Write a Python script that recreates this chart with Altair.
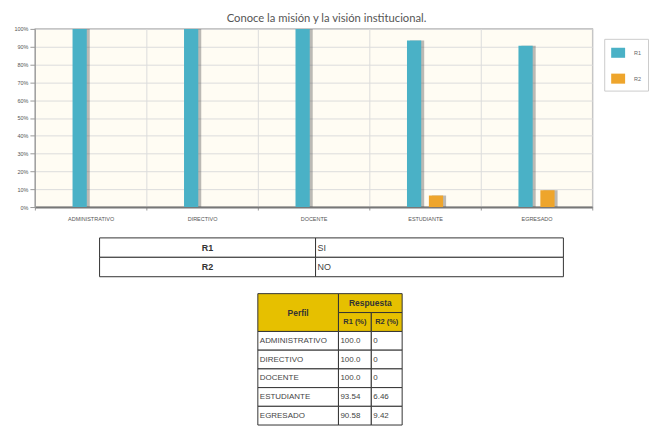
import altair as alt
import pandas as pd

# ---------------- data ----------------
title_text = "Conoce la misión y la visión institucional."
categories = ["ADMINISTRATIVO", "DIRECTIVO", "DOCENTE", "ESTUDIANTE", "EGRESADO"]
r1_values = [100.0, 100.0, 100.0, 93.54, 90.58]
r2_values = [0, 0, 0, 6.46, 9.42]
series = ["R1", "R2"]
series_meaning = ["SI", "NO"]
y_ticks = [0, 10, 20, 30, 40, 50, 60, 70, 80, 90, 100]
header_perfil = "Perfil"
header_group = "Respuesta"
header_cols = ["R1 (%)", "R2 (%)"]

# ---------------- styles / layout ----------------
series_colors = ["#4ab1c6", "#eea52c"]
PLOT_W, PLOT_H = 560, 179
TAB_W, TAB_H = 560, 188
FONT_TAB = "Liberation Sans"
OFFSET_RANGE = [37.85, 74.15]
SHADOW_RANGE = [40.85, 77.15]

bars_df = pd.DataFrame(
    [{"perfil": c, "serie": s, "valor": v}
     for c, a, b in zip(categories, r1_values, r2_values)
     for s, v in zip(series, [a, b])]
)

x_enc = alt.X(
    "perfil:N", sort=categories,
    scale=alt.Scale(paddingInner=0, paddingOuter=0),
    axis=alt.Axis(title=None, tickBand="extent", labelAngle=0, labelFontSize=5.5,
                  labelColor="#555", labelFont="Liberation Sans", tickColor="#999",
                  tickSize=3, labelPadding=7, domainColor="#777", domainWidth=2,
                  grid=True, gridColor="#dcdcdc"),
)
y_enc = alt.Y(
    "valor:Q",
    scale=alt.Scale(domain=[0, 100], nice=False),
    axis=alt.Axis(title=None, values=y_ticks, labelExpr="datum.value + '%'",
                  labelFontSize=5.5, labelColor="#555", labelFont="Liberation Sans",
                  tickSize=5, tickColor="#999", labelPadding=2, domainColor="#999",
                  grid=True, gridColor="#dcdcdc"),
)

shadow = alt.Chart(bars_df).mark_bar(color="#555", opacity=0.4).encode(
    x=x_enc, y=y_enc,
    xOffset=alt.XOffset("serie:N", sort=series,
                        scale=alt.Scale(paddingInner=0.35, paddingOuter=0, range=SHADOW_RANGE)),
)
bars = alt.Chart(bars_df).mark_bar().encode(
    x=x_enc, y=y_enc,
    xOffset=alt.XOffset("serie:N", sort=series,
                        scale=alt.Scale(paddingInner=0.35, paddingOuter=0, range=OFFSET_RANGE)),
    color=alt.Color(
        "serie:N",
        scale=alt.Scale(domain=series, range=series_colors),
        legend=alt.Legend(title=None, orient="none", legendX=572, legendY=10,
                          symbolType="M-1,-0.72L1,-0.72L1,0.72L-1,0.72Z",
                          symbolSize=196, labelFontSize=5.5, labelColor="#666",
                          labelFont="Liberation Sans", labelOffset=8, padding=6,
                          rowPadding=12, strokeColor="#cccccc", fillColor="white"),
    ),
)

bar_chart = alt.layer(shadow, bars).resolve_scale(xOffset="independent").properties(
    width=PLOT_W, height=PLOT_H,
    title=alt.TitleParams(title_text, fontSize=11.3, font="Lato", color="#555",
                          fontWeight="normal", anchor="middle", frame="group",
                          dx=13, offset=3),
    view=alt.ViewBackground(fill="#fffcf3", stroke="#888", strokeWidth=1.2),
)

# ---------------- tables ----------------
T1_X = [65, 282, 531]
T1_ROW = 19.5
T2_X = [224, 305, 338, 369]
T2_Y = [56, 75, 94]
T2_ROW = 18.8
GOLD = "#e6c000"

cells = []
texts = []
for i, (k, m) in enumerate(zip(series, series_meaning)):
    y0, y1 = i * T1_ROW, (i + 1) * T1_ROW
    cells.append(dict(x0=T1_X[0], x1=T1_X[1], y0=y0, y1=y1, fill="white"))
    cells.append(dict(x0=T1_X[1], x1=T1_X[2], y0=y0, y1=y1, fill="white"))
    texts.append(dict(x=(T1_X[0] + T1_X[1]) / 2, y=(y0 + y1) / 2, t=k, kind="bc", size=9))
    texts.append(dict(x=T1_X[1] + 2, y=(y0 + y1) / 2, t=m, kind="nl", size=9))

cells.append(dict(x0=T2_X[0], x1=T2_X[1], y0=T2_Y[0], y1=T2_Y[2], fill=GOLD))
cells.append(dict(x0=T2_X[1], x1=T2_X[3], y0=T2_Y[0], y1=T2_Y[1], fill=GOLD))
texts.append(dict(x=(T2_X[0] + T2_X[1]) / 2, y=(T2_Y[0] + T2_Y[2]) / 2, t=header_perfil, kind="bc", size=8.5))
texts.append(dict(x=(T2_X[1] + T2_X[3]) / 2, y=(T2_Y[0] + T2_Y[1]) / 2, t=header_group, kind="bc", size=8.5))
for j, h in enumerate(header_cols):
    cells.append(dict(x0=T2_X[1 + j], x1=T2_X[2 + j], y0=T2_Y[1], y1=T2_Y[2], fill=GOLD))
    texts.append(dict(x=(T2_X[1 + j] + T2_X[2 + j]) / 2, y=(T2_Y[1] + T2_Y[2]) / 2, t=h, kind="bc", size=7.5))

for j, (c, a, b) in enumerate(zip(categories, r1_values, r2_values)):
    y0 = T2_Y[2] + j * T2_ROW
    y1 = y0 + T2_ROW
    for col, val in enumerate([c, str(a), str(b)]):
        cells.append(dict(x0=T2_X[col], x1=T2_X[col + 1], y0=y0, y1=y1, fill="white"))
        texts.append(dict(x=T2_X[col] + 2, y=(y0 + y1) / 2, t=val, kind="nl", size=8))

cells_df = pd.DataFrame(cells)
texts_df = pd.DataFrame(texts)

xs = alt.Scale(domain=[0, TAB_W], nice=False, zero=False)
ys = alt.Scale(domain=[0, TAB_H], nice=False, zero=False, reverse=True)

rects = alt.Chart(cells_df).mark_rect(stroke="#333", strokeWidth=1).encode(
    x=alt.X("x0:Q", scale=xs, axis=None), x2="x1:Q",
    y=alt.Y("y0:Q", scale=ys, axis=None), y2="y1:Q",
    fill=alt.Fill("fill:N", scale=None),
)
txt_bold = alt.Chart(texts_df).transform_filter("datum.kind == 'bc'").mark_text(
    align="center", baseline="middle", fontWeight="bold", font=FONT_TAB, color="#333"
).encode(
    x=alt.X("x:Q", scale=xs, axis=None), y=alt.Y("y:Q", scale=ys, axis=None),
    text="t:N", size=alt.Size("size:Q", scale=None),
)
txt_norm = alt.Chart(texts_df).transform_filter("datum.kind == 'nl'").mark_text(
    align="left", baseline="middle", font=FONT_TAB, color="#444"
).encode(
    x=alt.X("x:Q", scale=xs, axis=None), y=alt.Y("y:Q", scale=ys, axis=None),
    text="t:N", size=alt.Size("size:Q", scale=None),
)

table_chart = alt.layer(rects, txt_bold, txt_norm).properties(
    width=TAB_W, height=TAB_H,
    view=alt.ViewBackground(stroke="transparent"),
)

chart = alt.vconcat(bar_chart, table_chart, spacing=31, bounds="flush").properties(
    padding={"left": 5, "top": 3, "right": 0, "bottom": 0}
)

chart.save("out.html", embed_options={"renderer": "svg", "actions": False})
